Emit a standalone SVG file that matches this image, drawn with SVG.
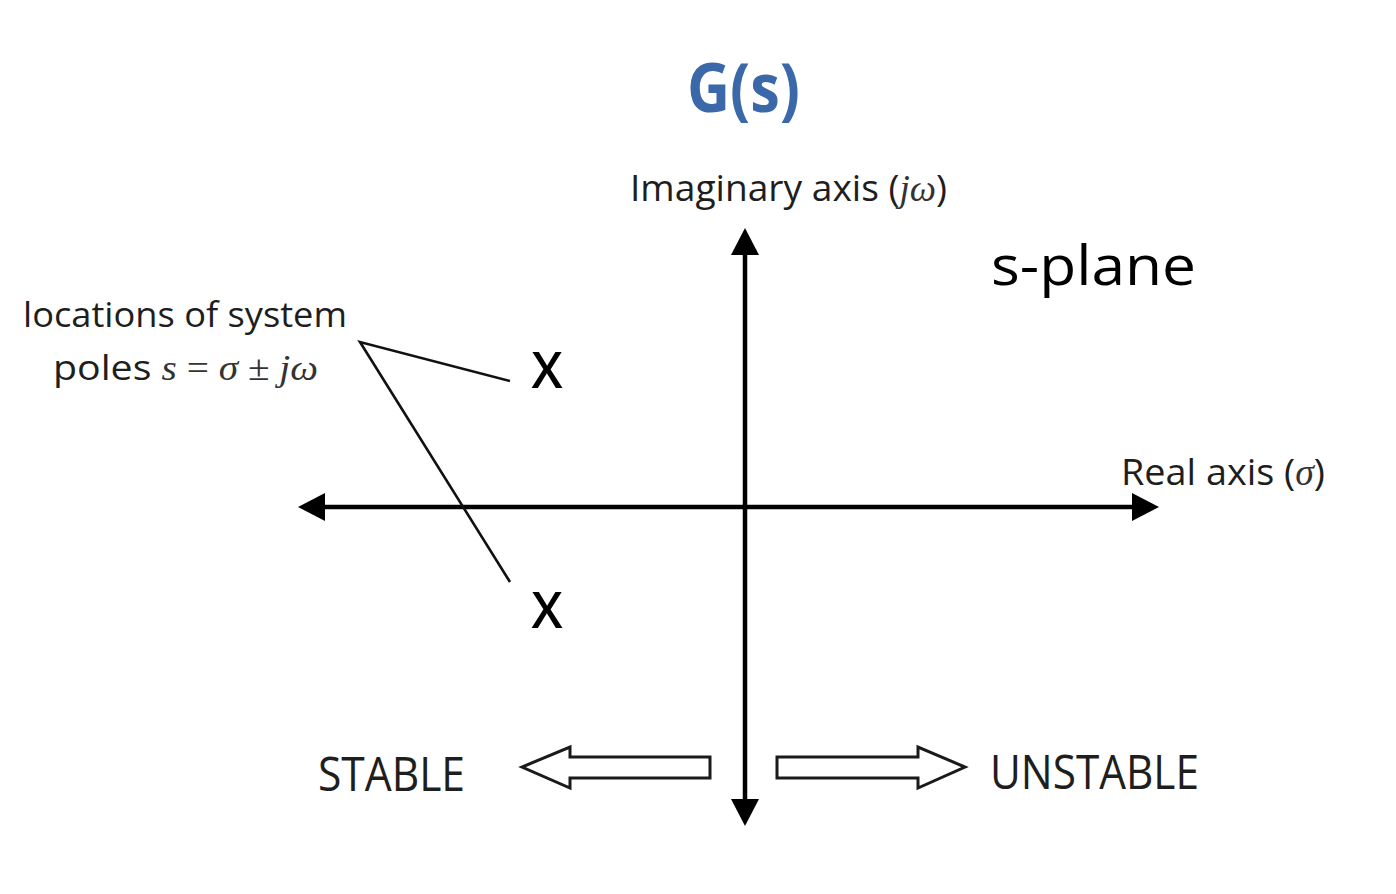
<svg xmlns="http://www.w3.org/2000/svg" width="1396" height="894" viewBox="0 0 1396 894">
  <style>
    .lbl { font-family: "Open Sans", "Liberation Sans", sans-serif; fill: #1e1e1e; }
    .math { font-family: "Liberation Serif", serif; font-style: italic; fill: #333; }
    .mathr { font-family: "Liberation Serif", serif; fill: #333; }
    .axis { stroke: #000; stroke-width: 4.5; fill: none; }
    .leader { stroke: #111; stroke-width: 2.6; fill: none; }
    .open { stroke: #1a1a1a; stroke-width: 3; fill: #fff; stroke-linejoin: miter; }
    .pole { font-family: "Open Sans", "Liberation Sans", sans-serif; font-weight: 600; fill: #000; }
  </style>
  <defs>
    <marker id="ah" viewBox="0 0 27 28" markerWidth="27" markerHeight="28" refX="1" refY="14" orient="auto-start-reverse" markerUnits="userSpaceOnUse">
      <path d="M0,0 L27,14 L0,28 Z" fill="#000"/>
    </marker>
  </defs>
  <rect width="1396" height="894" fill="#fff"/>

  <g id="title">
    <text x="687" y="112" font-family="'Open Sans', 'Liberation Sans', sans-serif" font-weight="bold" font-size="68" fill="#3A68A8" textLength="113" lengthAdjust="spacingAndGlyphs">G(s)</text>
  </g>

  <g id="connectors">
    <line id="real-axis" class="axis" x1="324" y1="507" x2="1133" y2="507" marker-start="url(#ah)" marker-end="url(#ah)"/>
    <line id="imag-axis" class="axis" x1="745" y1="254" x2="745" y2="800" marker-start="url(#ah)" marker-end="url(#ah)"/>
    <polyline id="leader" class="leader" points="510,381 360,342 510,582"/>
  </g>

  <g id="imag-label">
    <text class="lbl" x="630" y="201" font-size="37" textLength="317" lengthAdjust="spacingAndGlyphs">Imaginary axis (<tspan class="math">jω</tspan>)</text>
  </g>

  <g id="real-label">
    <text class="lbl" x="1121" y="485" font-size="37" textLength="204" lengthAdjust="spacingAndGlyphs">Real axis (<tspan class="math">σ</tspan>)</text>
  </g>

  <g id="splane">
    <text x="991" y="285" font-family="'Open Sans', 'Liberation Sans', sans-serif" font-size="55" fill="#000" textLength="205" lengthAdjust="spacingAndGlyphs">s-plane</text>
  </g>

  <g id="poles-label">
    <text class="lbl" x="23" y="327" font-size="35" textLength="324" lengthAdjust="spacingAndGlyphs">locations of system</text>
    <text class="lbl" x="53" y="380" font-size="35" textLength="265" lengthAdjust="spacingAndGlyphs">poles <tspan class="math">s</tspan><tspan class="mathr"> = </tspan><tspan class="math">σ</tspan><tspan class="mathr"> ± </tspan><tspan class="math">jω</tspan></text>
  </g>

  <g id="pole-upper">
    <text class="pole" x="547" y="388" font-size="50" text-anchor="middle">X</text>
  </g>
  <g id="pole-lower">
    <text class="pole" x="547" y="628" font-size="50" text-anchor="middle">X</text>
  </g>

  <g id="stable">
    <path class="open" d="M710,757 L570,757 L570,747 L522,767 L570,788 L570,778 L710,778 Z"/>
    <text class="lbl" x="318" y="791" font-size="48" textLength="147" lengthAdjust="spacingAndGlyphs">STABLE</text>
  </g>

  <g id="unstable">
    <path class="open" d="M777,757 L918,757 L918,747 L965,767 L918,788 L918,778 L777,778 Z"/>
    <text class="lbl" x="990" y="789" font-size="48" textLength="209" lengthAdjust="spacingAndGlyphs">UNSTABLE</text>
  </g>
</svg>
